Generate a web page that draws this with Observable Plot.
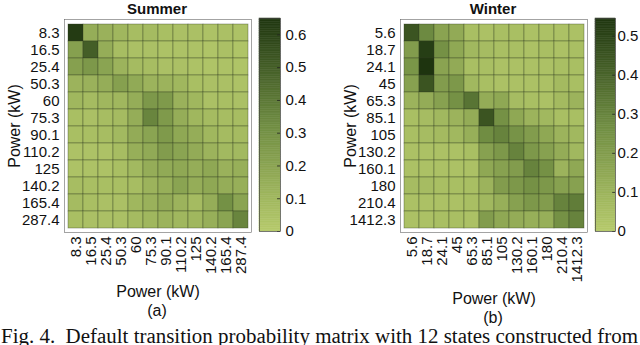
<!DOCTYPE html>
<html><head><meta charset="utf-8">
<script src="https://cdn.jsdelivr.net/npm/d3@7"></script>
<script src="https://cdn.jsdelivr.net/npm/@observablehq/plot@0.6"></script>
<style>
body{margin:0;background:#fff;}
#root{position:relative;width:640px;height:345px;overflow:hidden;font-family:"Liberation Sans",Arial,sans-serif;color:#111;}
.abs{position:absolute;}
.title{font-weight:bold;font-size:15px;line-height:17px;text-align:center;width:200px;}
.sub{font-size:16px;line-height:18px;text-align:center;width:60px;}
svg [aria-label$="axis label"]{font-size:16px;}
</style></head><body><div id="root"></div>
<script>
const summerStates = ["8.3","16.5","25.4","50.3","60","75.3","90.1","110.2","125","140.2","165.4","287.4"];
const winterStates = ["5.6","18.7","24.1","45","65.3","85.1","105","130.2","160.1","180","210.4","1412.3"];
// rows = current state, columns = next state
const summerValues = [
  [0.63,0.15,0.13,0.10,0.07,0.08,0.06,0.05,0.05,0.04,0.05,0.04],
  [0.22,0.50,0.15,0.07,0.05,0.05,0.04,0.04,0.04,0.03,0.05,0.03],
  [0.22,0.26,0.20,0.12,0.08,0.07,0.05,0.05,0.04,0.03,0.04,0.03],
  [0.12,0.13,0.15,0.22,0.17,0.12,0.12,0.10,0.06,0.05,0.05,0.04],
  [0.10,0.08,0.10,0.10,0.15,0.26,0.25,0.13,0.10,0.05,0.06,0.05],
  [0.06,0.05,0.07,0.08,0.15,0.35,0.25,0.15,0.10,0.08,0.07,0.07],
  [0.06,0.06,0.07,0.09,0.16,0.20,0.25,0.18,0.15,0.10,0.08,0.08],
  [0.04,0.04,0.04,0.07,0.14,0.17,0.24,0.20,0.16,0.12,0.09,0.09],
  [0.04,0.04,0.04,0.06,0.09,0.15,0.17,0.18,0.15,0.18,0.13,0.14],
  [0.07,0.06,0.06,0.06,0.07,0.12,0.14,0.20,0.15,0.18,0.15,0.14],
  [0.08,0.06,0.05,0.05,0.10,0.13,0.16,0.12,0.08,0.15,0.30,0.20],
  [0.06,0.05,0.05,0.05,0.08,0.10,0.12,0.10,0.10,0.14,0.20,0.35]
];
const winterValues = [
  [0.45,0.28,0.17,0.14,0.05,0.04,0.05,0.05,0.04,0.04,0.04,0.04],
  [0.20,0.52,0.25,0.15,0.08,0.06,0.05,0.05,0.04,0.05,0.04,0.05],
  [0.23,0.55,0.17,0.14,0.05,0.05,0.04,0.04,0.04,0.04,0.05,0.05],
  [0.18,0.45,0.20,0.22,0.08,0.05,0.04,0.04,0.04,0.04,0.07,0.05],
  [0.10,0.13,0.18,0.25,0.35,0.13,0.15,0.06,0.05,0.04,0.07,0.10],
  [0.05,0.06,0.08,0.10,0.13,0.45,0.25,0.15,0.10,0.08,0.05,0.05],
  [0.05,0.06,0.07,0.08,0.12,0.27,0.30,0.24,0.20,0.15,0.10,0.08],
  [0.04,0.04,0.04,0.04,0.05,0.18,0.22,0.30,0.22,0.18,0.13,0.08],
  [0.04,0.04,0.04,0.04,0.04,0.15,0.18,0.20,0.30,0.25,0.10,0.15],
  [0.06,0.06,0.05,0.05,0.05,0.10,0.20,0.22,0.25,0.22,0.18,0.18],
  [0.04,0.04,0.04,0.04,0.05,0.08,0.12,0.18,0.22,0.20,0.30,0.32],
  [0.04,0.04,0.05,0.05,0.04,0.20,0.15,0.13,0.12,0.12,0.25,0.30]
];
const summerTicks = [0,0.1,0.2,0.3,0.4,0.5,0.6];
const winterTicks = [0,0.1,0.2,0.3,0.4,0.5];
const summerMax = 0.65, winterMax = 0.545;
const colorStops = ["#b6ca6b","#6f8c42","#1f3610"];
const fontFam = "Liberation Sans, Arial, sans-serif";
const captionText = "Fig. 4.\u00a0\u00a0Default transition probability matrix with 12 states constructed from";

const root = document.getElementById("root");
function place(node, left, top) {
  node.classList.add("abs");
  node.style.left = left + "px"; node.style.top = top + "px";
  root.appendChild(node);
}
function colorOpt(max) {
  return {type: "linear", domain: [0, max/2, max], range: colorStops};
}
function heatmap(states, values, max, xLabelOffset) {
  const data = [];
  values.forEach((row, i) => row.forEach((v, j) => data.push({from: states[i], to: states[j], v})));
  return Plot.plot({
    width: 258, height: 315, marginLeft: 64, marginRight: 7, marginTop: 19, marginBottom: 83,
    style: {fontFamily: fontFam, fontSize: "15px", background: "transparent", color: "#111", overflow: "visible"},
    x: {type: "band", domain: states, padding: 0, tickRotate: -90, tickSize: 0, tickPadding: 4,
        label: "Power (kW)", labelAnchor: "center", labelOffset: xLabelOffset},
    y: {type: "band", domain: states, padding: 0, tickSize: 0, tickPadding: 5,
        label: "Power (kW)", labelAnchor: "center", labelOffset: 56},
    color: colorOpt(max),
    marks: [
      Plot.cell(data, {x: "to", y: "from", fill: "v", stroke: "#2e3a22", strokeWidth: 0.7, strokeOpacity: 0.5}),
      Plot.frame({stroke: "#666", strokeWidth: 0.6})
    ]
  });
}
function colorbar(max, ticks, barW, pad) {
  const n = 120;
  const steps = d3.range(n).map(i => ({a: i*max/n, b: (i+1)*max/n}));
  return Plot.plot({
    width: 4 + barW + 27, height: 315, marginLeft: 4, marginRight: 27, marginTop: 18, marginBottom: 84,
    style: {fontFamily: fontFam, fontSize: "15px", background: "transparent", color: "#111", overflow: "visible"},
    x: {domain: [0, 1], axis: null},
    y: {domain: [0, max], axis: null},
    color: colorOpt(max),
    marks: [
      Plot.rect(steps, {x1: 0, x2: 1, y1: "a", y2: "b", fill: d => (d.a + d.b)/2, stroke: d => (d.a + d.b)/2, strokeWidth: 0.5}),
      Plot.ruleY(ticks, {y: d => d, x1: 0.86, x2: 1, stroke: "#222", strokeWidth: 0.8}),
      Plot.frame({stroke: "#444", strokeWidth: 0.7}),
      Plot.axisY(ticks, {anchor: "right", tickSize: 0, tickPadding: pad, label: null, tickFormat: d => String(d)})
    ]
  });
}

place(heatmap(summerStates, summerValues, summerMax, 64), 0, 0);
place(colorbar(summerMax, summerTicks, 21, 5), 255, 0);
place(heatmap(winterStates, winterValues, winterMax, 71), 336, 0);
place(colorbar(winterMax, winterTicks, 20, 2), 591, 0);

function div(cls, text, left, top) {
  const d = document.createElement("div");
  d.className = cls; d.textContent = text;
  place(d, left, top);
  return d;
}
div("title", "Summer", 57, 0);
div("title", "Winter", 393, 0);
div("sub", "(a)", 127, 302);
div("sub", "(b)", 463, 309);

// caption as SVG text stretched to the full line width (justified look)
const ns = "http://www.w3.org/2000/svg";
const capSvg = document.createElementNS(ns, "svg");
capSvg.setAttribute("width", 640); capSvg.setAttribute("height", 24);
capSvg.style.overflow = "visible";
const t = document.createElementNS(ns, "text");
t.setAttribute("x", 1); t.setAttribute("y", 17);
t.setAttribute("textLength", 637); t.setAttribute("lengthAdjust", "spacingAndGlyphs");
t.setAttribute("font-family", "Liberation Serif, Times New Roman, serif");
t.setAttribute("font-size", 20); t.setAttribute("fill", "#111");
t.textContent = captionText;
capSvg.appendChild(t);
place(capSvg, 0, 326);
</script></body></html>
